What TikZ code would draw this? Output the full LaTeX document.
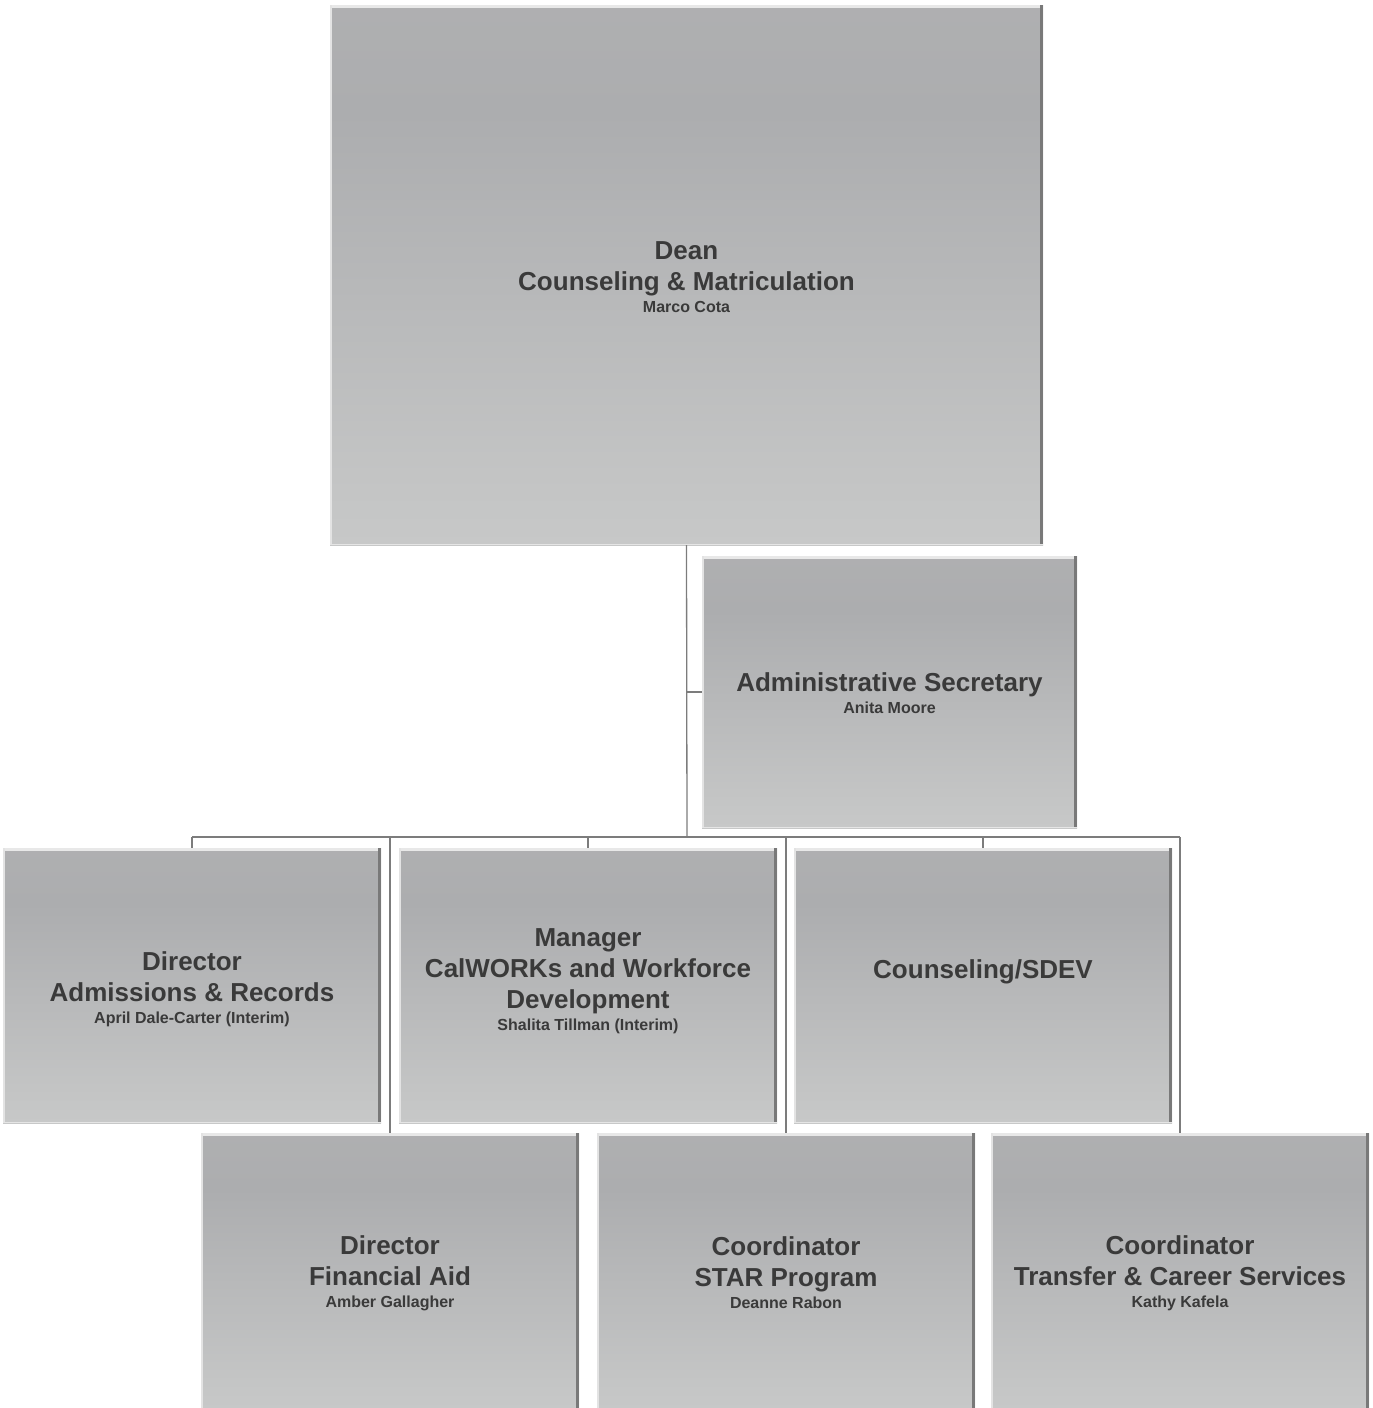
\documentclass[tikz,border=0pt]{standalone}
\usepackage{fontspec}
\setmainfont{Liberation Sans}
\definecolor{shB}{HTML}{D6D7D7}
\definecolor{shM2}{HTML}{C4C5C5}
\definecolor{shM}{HTML}{ACADAF}
\definecolor{shT2}{HTML}{B4B4B4}
\definecolor{shT}{HTML}{BEBEBE}
\definecolor{txt}{HTML}{3A3A3A}
\definecolor{conn}{HTML}{7C7C7C}
\pgfdeclareverticalshading{boxshade}{100bp}{%
  color(0bp)=(shB); color(30bp)=(shM2); color(65bp)=(shM); color(92bp)=(shT2); color(100bp)=(shT)}
\newcommand{\mainf}{\fontsize{26}{31}\selectfont\bfseries}
\newcommand{\namef}{\fontsize{16}{19}\selectfont\bfseries}
\begin{document}
\begin{tikzpicture}[x=1pt,y=-1pt,
  orgbox/.style={rectangle, inner sep=0pt, shading=boxshade,
    path picture={
      \fill[white!82!gray] (path picture bounding box.north west) rectangle ([yshift=-2.5pt]path picture bounding box.north east);
      \fill[white!78!gray] (path picture bounding box.north west) rectangle ([xshift=2pt]path picture bounding box.south west);
      \fill[gray!95!black] ([xshift=-3pt]path picture bounding box.north east) rectangle (path picture bounding box.south east);
      \fill[white!80!gray] (path picture bounding box.south west) rectangle ([yshift=1.5pt]path picture bounding box.south east);
    }},
  lbl/.style={text=txt, align=center, font=\mainf, inner sep=0pt},
  link/.style={draw=conn, line width=1.3pt}]
\useasboundingbox (0,0) rectangle (1373,1408);

% boxes
\node[orgbox, minimum width=713pt, minimum height=540pt] (dean) at (686.5,275) {};
\node[orgbox, minimum width=375pt, minimum height=272pt] (sec) at (889.5,692) {};
\node[orgbox, minimum width=378pt, minimum height=275pt] (adm) at (192,985.5) {};
\node[orgbox, minimum width=378pt, minimum height=275pt] (cal) at (588,985.5) {};
\node[orgbox, minimum width=378pt, minimum height=275pt] (sdev) at (983,985.5) {};
\node[orgbox, minimum width=378pt, minimum height=276pt] (fin) at (390,1271) {};
\node[orgbox, minimum width=378pt, minimum height=276pt] (star) at (786,1271) {};
\node[orgbox, minimum width=378pt, minimum height=276pt] (trans) at (1180,1271) {};

% texts
\node[lbl] (deant) at ([yshift=-2pt]dean.center)
  {Dean\\Counseling \& Matriculation\\[-9pt]{\namef Marco Cota}};
\node[lbl] (sect) at ([yshift=-1.5pt]sec.center)
  {Administrative Secretary\\[-9pt]{\namef Anita Moore}};
\node[lbl] (admt) at ([yshift=-3.5pt]adm.center)
  {Director\\Admissions \& Records\\[-9pt]{\namef April Dale-Carter (Interim)}};
\node[lbl] (calt) at ([yshift=4.5pt]cal.center)
  {Manager\\CalWORKs and Workforce\\Development\\[-9pt]{\namef Shalita Tillman (Interim)}};
\node[lbl] (sdevt) at (983,972) {Counseling/SDEV};
\node[lbl] (fint) at ([yshift=-2.5pt]fin.center)
  {Director\\Financial Aid\\[-9pt]{\namef Amber Gallagher}};
\node[lbl] (start) at ([yshift=-1.5pt]star.center)
  {Coordinator\\STAR Program\\[-9pt]{\namef Deanne Rabon}};
\node[lbl] (transt) at ([yshift=-2.5pt]trans.center)
  {Coordinator\\Transfer \& Career Services\\[-9pt]{\namef Kathy Kafela}};

% connectors
\coordinate (bus) at (687,837);
\draw[link] (dean.south) -- (bus);
\draw[link] (dean.south |- sec.west) -- (sec.west);
\draw[link] (adm.north |- bus) -- (trans.north |- bus);
\draw[link] (adm.north |- bus) -- (adm.north);
\draw[link] (cal.north |- bus) -- (cal.north);
\draw[link] (sdev.north |- bus) -- (sdev.north);
\draw[link] (fin.north |- bus) -- (fin.north);
\draw[link] (star.north |- bus) -- (star.north);
\draw[link] (trans.north |- bus) -- (trans.north);
\end{tikzpicture}
\end{document}
